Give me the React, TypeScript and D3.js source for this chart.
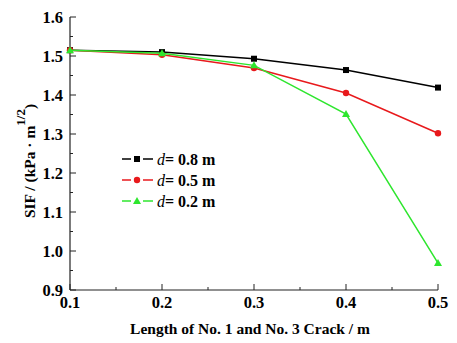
import React, { useRef, useEffect } from 'react';
import * as d3 from 'd3';

const crackLength = [0.1, 0.2, 0.3, 0.4, 0.5];
const sifD08 = [1.515, 1.51, 1.493, 1.464, 1.419];
const sifD05 = [1.515, 1.503, 1.469, 1.405, 1.302];
const sifD02 = [1.515, 1.507, 1.476, 1.351, 0.969];
const seriesNames = ['0.8 m', '0.5 m', '0.2 m'];
const seriesColors = ['#000000', '#e8191c', '#2ee62e'];
const seriesMarkers = ['square', 'circle', 'triangle'];
const xTicks = [0.1, 0.2, 0.3, 0.4, 0.5];
const yTicks = [0.9, 1.0, 1.1, 1.2, 1.3, 1.4, 1.5, 1.6];

export default function App() {
    const svgRef = useRef<SVGSVGElement | null>(null);

    useEffect(() => {
        const svg = d3.select(svgRef.current);
        svg.selectAll('*').remove();
        const font = "'Liberation Serif', 'DejaVu Serif', serif";

        const x = d3.scaleLinear().domain([0.1, 0.5]).range([70, 438]);
        const y = d3.scaleLinear().domain([0.9, 1.6]).range([290, 17]);

        // axes lines
        svg.append('line').attr('x1', 70).attr('x2', 438).attr('y1', 290).attr('y2', 290)
            .attr('stroke', '#222').attr('stroke-width', 1.2);
        svg.append('line').attr('x1', 70).attr('x2', 70).attr('y1', 17).attr('y2', 290)
            .attr('stroke', '#222').attr('stroke-width', 1.2);

        // x ticks (inward)
        const xMinor = d3.range(0.15, 0.5, 0.1);
        svg.selectAll('.xt').data(xTicks).join('line').attr('class', 'xt')
            .attr('x1', d => x(d)).attr('x2', d => x(d)).attr('y1', 290).attr('y2', 284)
            .attr('stroke', '#222');
        svg.selectAll('.xm').data(xMinor).join('line').attr('class', 'xm')
            .attr('x1', d => x(d)).attr('x2', d => x(d)).attr('y1', 290).attr('y2', 287)
            .attr('stroke', '#222');
        svg.selectAll('.xl').data(xTicks).join('text').attr('class', 'xl')
            .attr('x', d => x(d)).attr('y', 308).attr('text-anchor', 'middle')
            .style('font-family', font).attr('font-weight', 'bold').attr('font-size', 16.5)
            .text(d => d.toFixed(1));

        // y ticks (inward)
        const yMinor = d3.range(0.95, 1.6, 0.1);
        svg.selectAll('.yt').data(yTicks).join('line').attr('class', 'yt')
            .attr('x1', 70).attr('x2', 76).attr('y1', d => y(d)).attr('y2', d => y(d))
            .attr('stroke', '#222');
        svg.selectAll('.ym').data(yMinor).join('line').attr('class', 'ym')
            .attr('x1', 70).attr('x2', 73).attr('y1', d => y(d)).attr('y2', d => y(d))
            .attr('stroke', '#222');
        svg.selectAll('.yl').data(yTicks).join('text').attr('class', 'yl')
            .attr('x', 63).attr('y', d => y(d) + 5.5).attr('text-anchor', 'end')
            .style('font-family', font).attr('font-weight', 'bold').attr('font-size', 16.5)
            .text(d => d.toFixed(1));

        // axis titles
        svg.append('text').attr('x', 250).attr('y', 334).attr('text-anchor', 'middle')
            .style('font-family', font).attr('font-weight', 'bold').attr('font-size', 15.5)
            .text('Length of No. 1 and No. 3 Crack / m');
        const yt = svg.append('text').attr('transform', 'translate(35,161) rotate(-90)')
            .attr('text-anchor', 'middle')
            .style('font-family', font).attr('font-weight', 'bold').attr('font-size', 15.5);
        yt.append('tspan').text('SIF / (kPa · m');
        yt.append('tspan').attr('dy', -10).attr('font-size', 13).text('1/2');
        yt.append('tspan').attr('dy', 10).text(')');

        const allSeries = [sifD08, sifD05, sifD02];
        const line = d3.line<number>().x((_, i) => x(crackLength[i])).y(d => y(d));

        const drawMarker = (g: any, kind: string, cx: number, cy: number, color: string) => {
            if (kind === 'square') {
                g.append('rect').attr('x', cx - 3).attr('y', cy - 3).attr('width', 6).attr('height', 6).attr('fill', color);
            } else if (kind === 'circle') {
                g.append('circle').attr('cx', cx).attr('cy', cy).attr('r', 3.2).attr('fill', color);
            } else {
                g.append('path').attr('d', `M${cx},${cy - 4}L${cx + 4},${cy + 3}L${cx - 4},${cy + 3}Z`).attr('fill', color);
            }
        };

        allSeries.forEach((s, k) => {
            svg.append('path').datum(s).attr('d', line).attr('fill', 'none')
                .attr('stroke', seriesColors[k]).attr('stroke-width', 1.5);
            const g = svg.append('g');
            s.forEach((v, i) => drawMarker(g, seriesMarkers[k], x(crackLength[i]), y(v), seriesColors[k]));
        });

        // legend
        seriesNames.forEach((name, k) => {
            const ly = 159 + k * 21;
            const g = svg.append('g');
            g.append('line').attr('x1', 122).attr('x2', 131).attr('y1', ly).attr('y2', ly)
                .attr('stroke', seriesColors[k]).attr('stroke-width', 1.5);
            g.append('line').attr('x1', 143).attr('x2', 153).attr('y1', ly).attr('y2', ly)
                .attr('stroke', seriesColors[k]).attr('stroke-width', 1.5);
            drawMarker(g, seriesMarkers[k], 137, ly, seriesColors[k]);
            const t = g.append('text').attr('x', 157).attr('y', ly + 5.5)
                .style('font-family', font).attr('font-size', 16);
            t.append('tspan').attr('font-style', 'italic').text('d');
            t.append('tspan').attr('font-weight', 'bold').text('= ' + name);
        });
    }, []);

    return (
        <svg ref={svgRef} width={457} height={343}
            style={{ position: 'absolute', left: 0, top: 0, background: '#fff' }} />
    );
}
